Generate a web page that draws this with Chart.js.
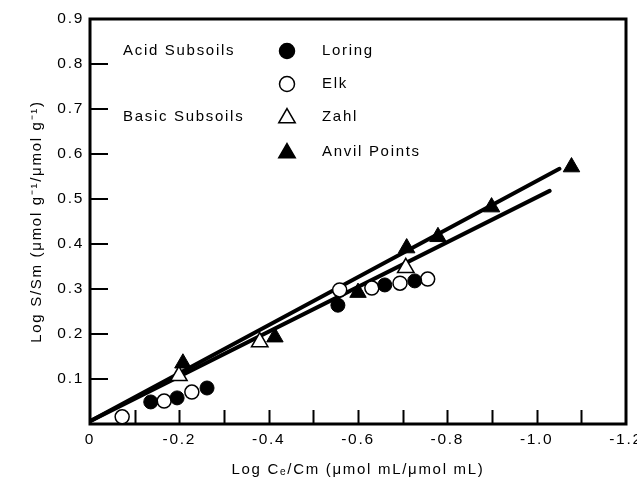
<!DOCTYPE html>
<html>
<head>
<meta charset="utf-8">
<script src="https://cdn.jsdelivr.net/npm/chart.js@4.4.0/dist/chart.umd.min.js"></script>
<style>
  html, body { margin: 0; padding: 0; background: #fff; }
  #wrap { width: 637px; height: 483px; }
</style>
</head>
<body>
<div id="wrap"><canvas id="isothermChart" width="637" height="483"></canvas></div>
<script>
// Data
const loringX = [-0.136, -0.195, -0.262, -0.555, -0.660, -0.727];
const loringY = [0.049, 0.058, 0.080, 0.264, 0.309, 0.318];
const elkX = [-0.072, -0.166, -0.228, -0.559, -0.631, -0.694, -0.756];
const elkY = [0.016, 0.051, 0.071, 0.298, 0.302, 0.313, 0.322];
const zahlX = [-0.199, -0.380, -0.707];
const zahlY = [0.107, 0.182, 0.347];
const anvilX = [-0.208, -0.414, -0.600, -0.709, -0.779, -0.899, -1.078];
const anvilY = [0.135, 0.193, 0.292, 0.391, 0.416, 0.482, 0.571];
// fitted lines (end points)
const fitUpperX = [0, -1.051];
const fitUpperY = [0.006, 0.567];
const fitLowerX = [0, -1.029];
const fitLowerY = [0.006, 0.518];
// ticks
const xTickValues = [0, -0.2, -0.4, -0.6, -0.8, -1.0, -1.2];
const xMinorTicks = [-0.1, -0.3, -0.5, -0.7, -0.9, -1.1];
const yTickValues = [0.1, 0.2, 0.3, 0.4, 0.5, 0.6, 0.7, 0.8];

const FONT = '"Liberation Sans", Arial, sans-serif';
const SPACING = '1.7px';

function toPoints(xs, ys) {
  return xs.map((x, i) => ({ x: x, y: ys[i] }));
}

// letter spacing to mimic the wide typesetting
const spacing = {
  id: 'spacing',
  beforeUpdate(chart) { chart.ctx.letterSpacing = SPACING; },
  beforeDraw(chart) { chart.ctx.letterSpacing = SPACING; }
};

// frame around plot and inward ticks
const frameTicks = {
  id: 'frameTicks',
  beforeDatasetsDraw(chart) {
    const { ctx, chartArea: a, scales: { x, y } } = chart;
    ctx.save();
    ctx.strokeStyle = '#000';
    ctx.lineWidth = 2;
    ctx.beginPath();
    xTickValues.concat(xMinorTicks).forEach(v => {
      const px = Math.round(x.getPixelForValue(v)) + 0.5;
      if (px < a.left + 3 || px > a.right - 3) return;
      ctx.moveTo(px, a.bottom);
      ctx.lineTo(px, a.bottom - 14);
    });
    yTickValues.forEach(v => {
      const py = Math.round(y.getPixelForValue(v));
      ctx.moveTo(a.left, py);
      ctx.lineTo(a.left + 18, py);
    });
    ctx.stroke();
    ctx.lineWidth = 3;
    ctx.strokeRect(a.left, a.top, a.right - a.left, a.bottom - a.top);
    ctx.restore();
  }
};

// grouped legend in the upper left
const groupLegend = {
  id: 'groupLegend',
  afterDraw(chart) {
    const { ctx, chartArea: a } = chart;
    const symX = a.left + 197;
    const labX = a.left + 232;
    const rows = [
      { y: a.top + 32, group: 'Acid Subsoils', label: 'Loring', shape: 'circle', fill: true },
      { y: a.top + 65, group: null, label: 'Elk', shape: 'circle', fill: false },
      { y: a.top + 98, group: 'Basic Subsoils', label: 'Zahl', shape: 'triangle', fill: false },
      { y: a.top + 133, group: null, label: 'Anvil Points', shape: 'triangle', fill: true }
    ];
    ctx.save();
    ctx.letterSpacing = SPACING;
    ctx.font = '15px ' + FONT;
    ctx.fillStyle = '#000';
    ctx.textBaseline = 'middle';
    ctx.textAlign = 'left';
    rows.forEach(r => {
      if (r.group) ctx.fillText(r.group, a.left + 33, r.y);
      ctx.fillText(r.label, labX, r.y);
      ctx.beginPath();
      if (r.shape === 'circle') {
        ctx.arc(symX, r.y, 7.5, 0, Math.PI * 2);
      } else {
        const rad = 9.5;
        for (let k = 0; k < 3; k++) {
          const ang = k * 2 * Math.PI / 3;
          const px = symX + Math.sin(ang) * rad;
          const py = r.y + 1 - Math.cos(ang) * rad;
          if (k === 0) ctx.moveTo(px, py); else ctx.lineTo(px, py);
        }
        ctx.closePath();
      }
      ctx.fillStyle = r.fill ? '#000' : '#fff';
      ctx.fill();
      ctx.lineWidth = 1.5;
      ctx.strokeStyle = '#000';
      ctx.stroke();
      ctx.fillStyle = '#000';
    });
    ctx.restore();
  }
};

const ctx = document.getElementById('isothermChart').getContext('2d');
new Chart(ctx, {
  type: 'scatter',
  data: {
    datasets: [
      {
        label: 'Loring',
        data: toPoints(loringX, loringY),
        pointStyle: 'circle',
        pointRadius: 7,
        borderWidth: 1,
        backgroundColor: '#000',
        borderColor: '#000',
        order: 1
      },
      {
        label: 'Elk',
        data: toPoints(elkX, elkY),
        pointStyle: 'circle',
        pointRadius: 7,
        borderWidth: 1.5,
        backgroundColor: '#fff',
        borderColor: '#000',
        order: 1
      },
      {
        label: 'Zahl',
        data: toPoints(zahlX, zahlY),
        pointStyle: 'triangle',
        pointRadius: 9.5,
        borderWidth: 1.5,
        backgroundColor: '#fff',
        borderColor: '#000',
        order: 1
      },
      {
        label: 'Anvil Points',
        data: toPoints(anvilX, anvilY),
        pointStyle: 'triangle',
        pointRadius: 9.5,
        borderWidth: 1,
        backgroundColor: '#000',
        borderColor: '#000',
        order: 1
      },
      {
        label: 'Fit upper',
        data: toPoints(fitUpperX, fitUpperY),
        showLine: true,
        pointRadius: 0,
        borderWidth: 4,
        borderColor: '#000',
        borderCapStyle: 'round',
        order: 2
      },
      {
        label: 'Fit lower',
        data: toPoints(fitLowerX, fitLowerY),
        showLine: true,
        pointRadius: 0,
        borderWidth: 4,
        borderColor: '#000',
        borderCapStyle: 'round',
        order: 2
      }
    ]
  },
  options: {
    responsive: false,
    animation: false,
    events: [],
    layout: { padding: { top: 19, right: 11, left: 0, bottom: 0 } },
    plugins: {
      legend: { display: false },
      tooltip: { enabled: false }
    },
    scales: {
      x: {
        type: 'linear',
        min: -1.2,
        max: 0,
        reverse: true,
        grid: { display: false, drawTicks: false },
        border: { display: false },
        ticks: {
          stepSize: 0.2,
          padding: 6,
          color: '#000',
          font: { family: FONT, size: 15.5 },
          maxRotation: 0,
          callback: v => Math.abs(v) < 1e-9 ? '0' : v.toFixed(1)
        },
        title: {
          display: true,
          text: 'Log C\u2091/Cm (\u03bcmol mL/\u03bcmol mL)',
          color: '#000',
          font: { family: FONT, size: 15 },
          padding: { top: 0, bottom: 4 }
        },
        afterFit(scale) {
          scale.height = 59;
          scale.paddingLeft = 0;
          scale.paddingRight = 0;
        }
      },
      y: {
        type: 'linear',
        min: 0,
        max: 0.9,
        grid: { display: false, drawTicks: false },
        border: { display: false },
        ticks: {
          stepSize: 0.1,
          padding: 6,
          color: '#000',
          font: { family: FONT, size: 15.5 },
          callback: v => Math.abs(v) < 1e-9 ? '' : v.toFixed(1)
        },
        title: {
          display: true,
          text: 'Log S/Sm (\u03bcmol g\u207b\u00b9/\u03bcmol g\u207b\u00b9)',
          color: '#000',
          font: { family: FONT, size: 15 },
          padding: { top: 28, bottom: 0 }
        },
        afterFit(scale) {
          scale.width = 90;
          scale.paddingTop = 0;
        }
      }
    }
  },
  plugins: [spacing, frameTicks, groupLegend]
});
</script>
</body>
</html>
